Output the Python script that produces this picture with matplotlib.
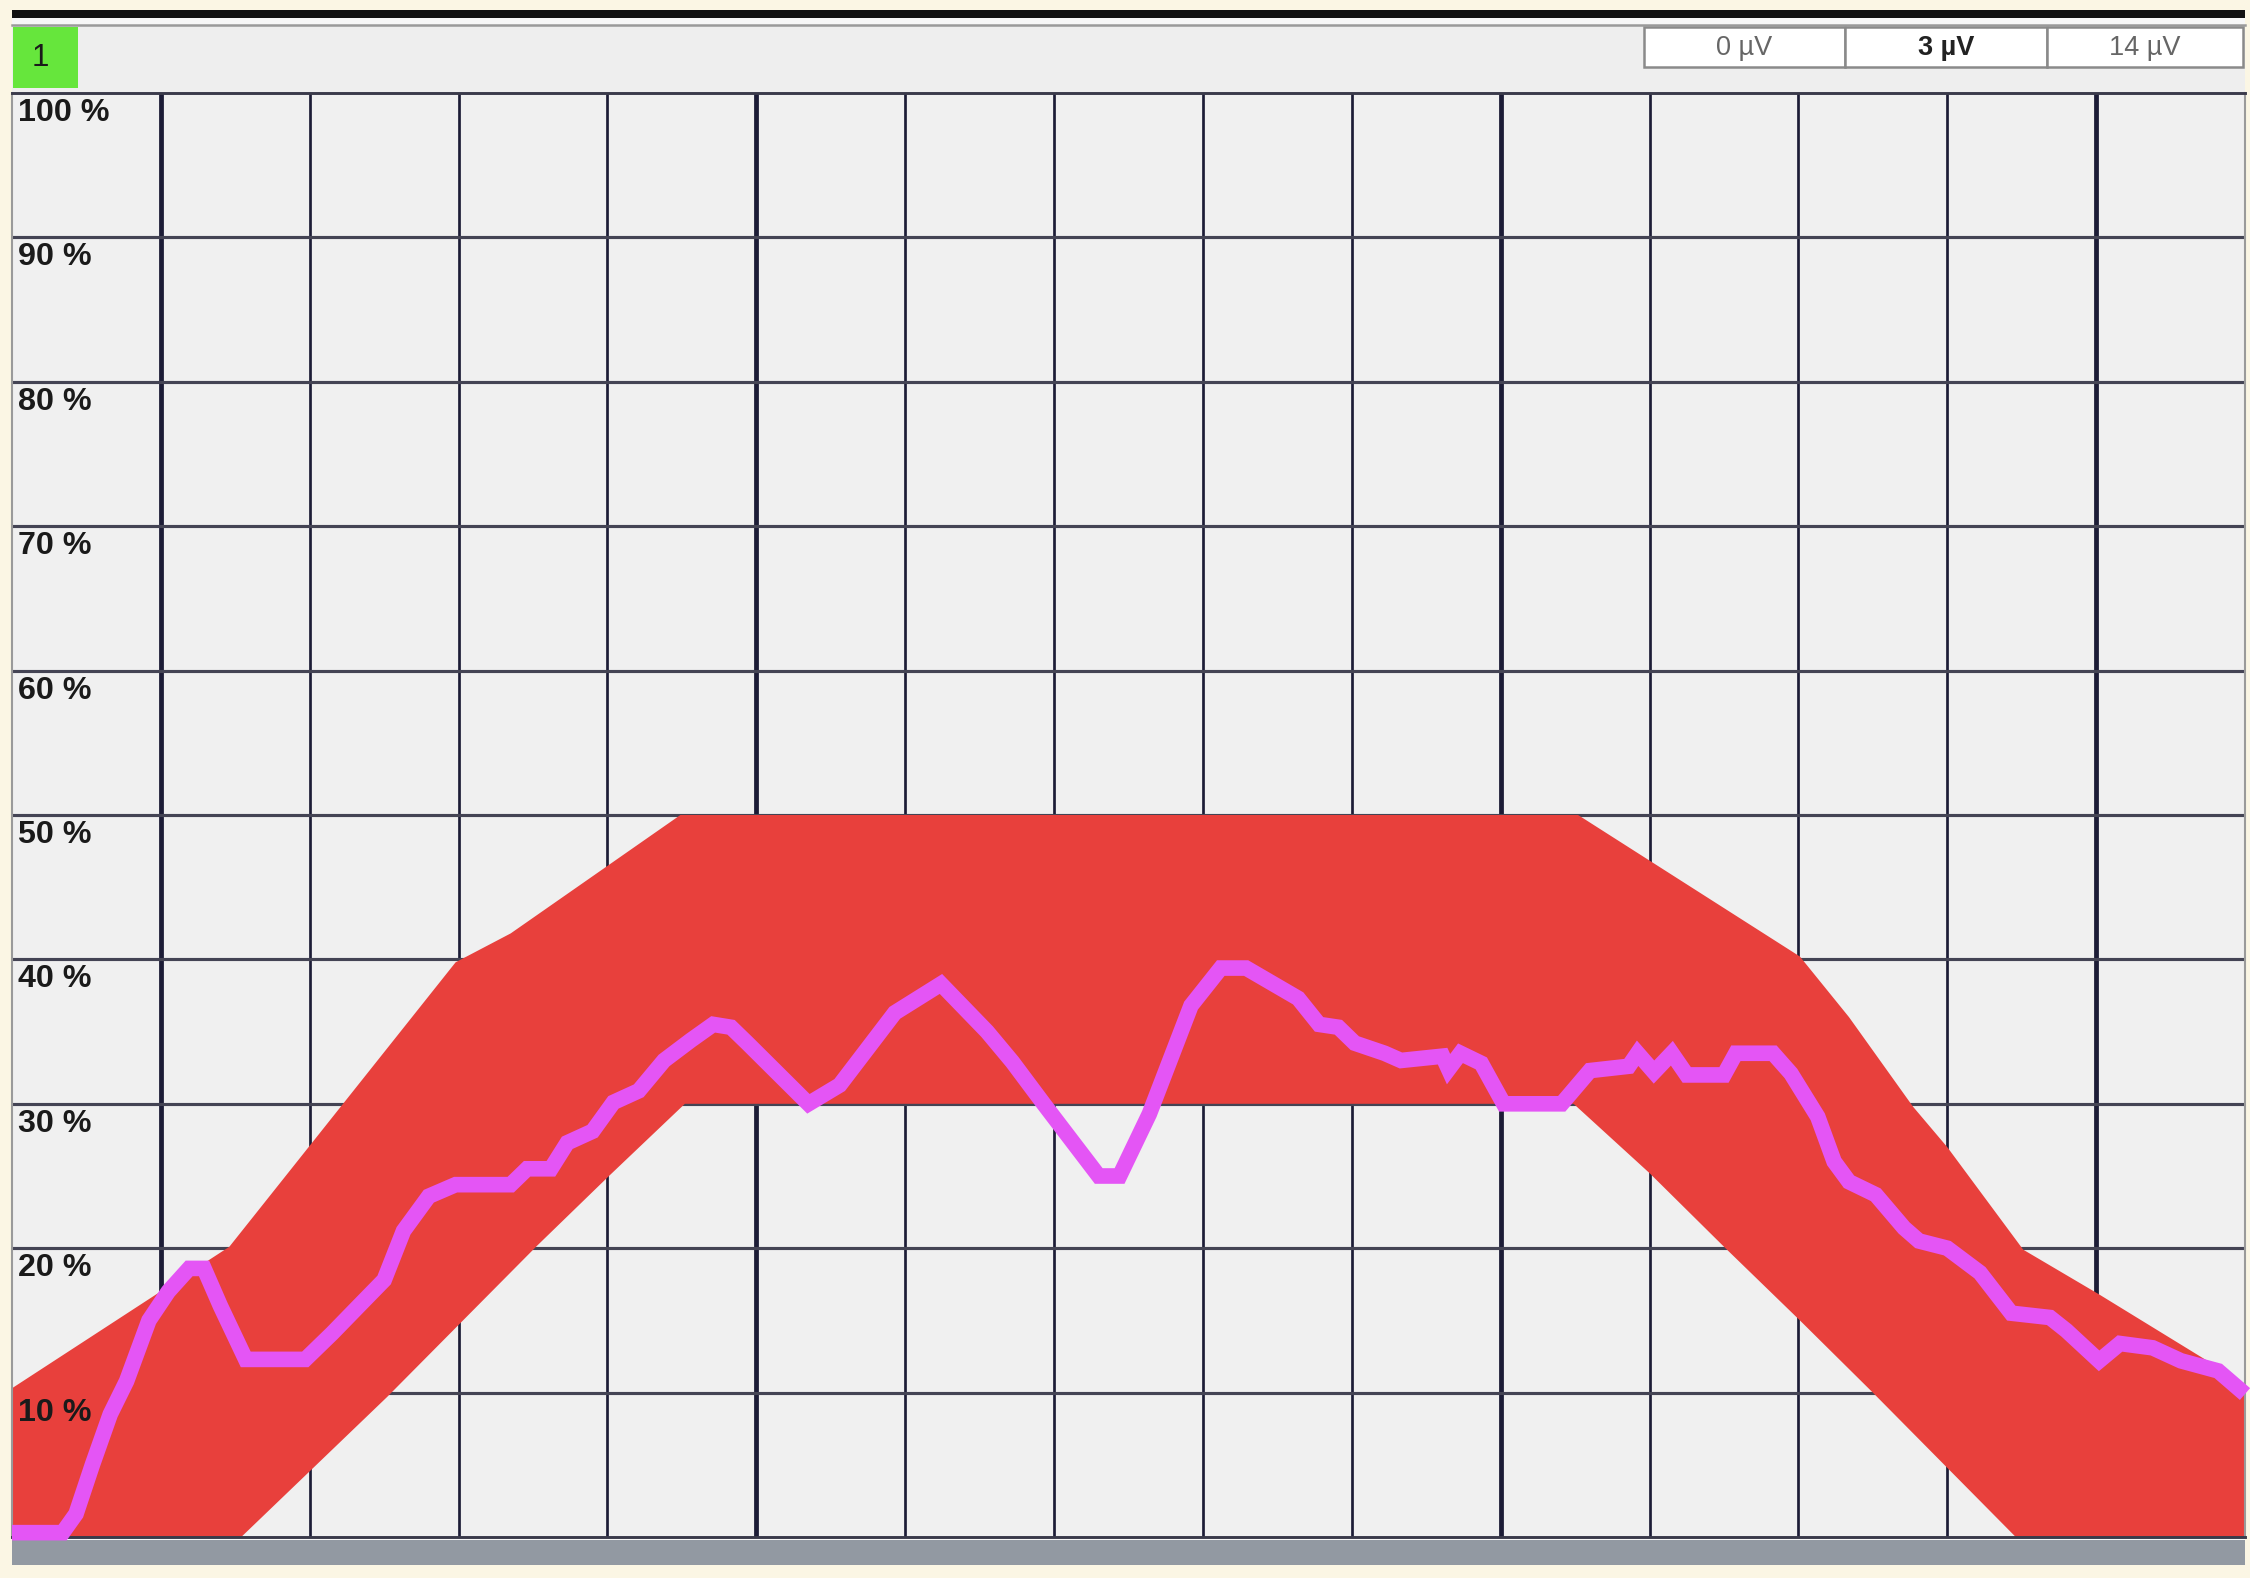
import matplotlib
matplotlib.use("Agg")
import matplotlib.pyplot as plt
from matplotlib.patches import Rectangle

# x in grid divisions (0..15), y in percent
upper_x = [0, 1.46, 2.98, 3.35, 4.49, 10.52, 12.01, 12.34, 12.77, 13.0, 13.51, 14.02, 15.0]
upper_y = [10.3, 20.1, 39.8, 41.8, 50, 50, 40.2, 36, 29.8, 27, 19.9, 16.8, 10.6]
lower_x = [0, 1.54, 2.52, 3.53, 4.01, 4.52, 10.49, 11.0, 11.51, 12.01, 12.5, 13.46, 15.0]
lower_y = [0, 0, 9.7, 20.2, 25, 30, 30, 25.2, 20, 15, 10, 0, 0]

trace_x = [0, 0.34, 0.43, 0.54, 0.66, 0.77, 0.92, 1.05, 1.19, 1.29, 1.40, 1.57, 1.97,
           2.15, 2.32, 2.50, 2.63, 2.80, 2.98, 3.35, 3.46, 3.62, 3.73, 3.90, 4.04,
           4.21, 4.38, 4.56, 4.71, 4.83, 4.94, 5.35, 5.56, 5.93, 6.24, 6.55, 6.72,
           6.93, 7.30, 7.44, 7.64, 7.92, 8.12, 8.29, 8.64, 8.78, 8.91, 9.02, 9.22,
           9.33, 9.61, 9.65, 9.73, 9.87, 10.02, 10.41, 10.60, 10.86, 10.92, 11.03,
           11.15, 11.25, 11.50, 11.58, 11.83, 11.95, 12.13, 12.24, 12.34, 12.52,
           12.71, 12.81, 13.00, 13.22, 13.43, 13.69, 13.80, 14.02, 14.16, 14.38,
           14.57, 14.82, 15.0]
trace_y = [0.3, 0.3, 1.6, 5, 8.5, 10.8, 15, 17, 18.6, 18.6, 16, 12.3, 12.3,
           14.1, 15.9, 17.8, 21.2, 23.6, 24.4, 24.4, 25.5, 25.5, 27.3, 28.1, 30.1,
           30.9, 33, 34.4, 35.5, 35.3, 34.2, 30, 31.3, 36.3, 38.3, 35, 32.9,
           30, 25, 25, 29.3, 36.8, 39.4, 39.4, 37.3, 35.5, 35.3, 34.2, 33.5,
           33.0, 33.3, 32.4, 33.5, 32.8, 30, 30, 32.3, 32.6, 33.5, 32.2,
           33.5, 32, 32, 33.5, 33.5, 32.1, 29.1, 26, 24.6, 23.7,
           21.4, 20.5, 20, 18.3, 15.5, 15.2, 14.3, 12.2, 13.4, 13.1,
           12.2, 11.5, 9.9]

pct_labels = [10, 20, 30, 40, 50, 60, 70, 80, 90, 100]
thick_cols = [1, 5, 10, 14]
buttons = ["0 µV", "3 µV", "14 µV"]
button_bold = [False, True, False]

W, H = 2250, 1578
fig = plt.figure(figsize=(15, 10.52), dpi=150, facecolor="#fbf6e4")

# background frame drawn in pixel coordinates
bg = fig.add_axes([0, 0, 1, 1], zorder=0)
bg.set_xlim(0, W)
bg.set_ylim(H, 0)
bg.axis("off")
bg.add_patch(Rectangle((12, 10), 2233, 1555, color="#f7f7f7", lw=0))
bg.add_patch(Rectangle((12, 10), 2233, 8, color="#111111", lw=0))
bg.add_patch(Rectangle((12, 25), 2233, 68, color="#eeeeee", lw=0))
bg.plot([12, 2245], [25, 25], color="#9a9a9a", lw=1.2)
bg.add_patch(Rectangle((12, 1540), 2233, 25, color="#9299a2", lw=0))
bg.add_patch(Rectangle((13, 27), 65, 61, color="#66e63c", lw=0))
bg.text(40, 58, "1", ha="center", va="center", fontsize=15, color="#1a1a1a",
        family=["Liberation Sans", "DejaVu Sans"])

bx = [1644, 1845, 2047, 2243]
for i, lab in enumerate(buttons):
    bg.add_patch(Rectangle((bx[i], 27), bx[i + 1] - bx[i], 40, facecolor="white",
                           edgecolor="#8a8a8a", lw=1.2))
    bg.text((bx[i] + bx[i + 1]) / 2, 48, lab, ha="center", va="center", fontsize=13,
            color="#222222" if button_bold[i] else "#666666",
            fontweight="bold" if button_bold[i] else "normal",
            family=["Liberation Sans Narrow", "Liberation Sans", "DejaVu Sans"])

# main chart
ax = fig.add_axes([12 / W, 41 / H, 2233 / W, 1444 / H], zorder=2)
ax.set_facecolor("#f0f0f0")
ax.set_xlim(0, 15)
ax.set_ylim(0, 100)
ax.set_xticks([])
ax.set_yticks([])
for s in ax.spines.values():
    s.set_color("#9a9a9a")
    s.set_linewidth(1)
ax.spines["top"].set_color("#3a3a4a")
ax.spines["top"].set_linewidth(1.4)
ax.spines["bottom"].set_color("#3a3a4a")
ax.spines["bottom"].set_linewidth(1.4)

for c in range(1, 15):
    ax.axvline(c, color="#1c1c36", lw=2.3 if c in thick_cols else 1.3, zorder=1)
for v in pct_labels[:-1]:
    ax.axhline(v, color="#444454", lw=1.5, zorder=1)

band_x = upper_x + lower_x[::-1]
band_y = upper_y + lower_y[::-1]
ax.fill(band_x, band_y, color="#e8403c", lw=0, zorder=2)

ax.plot(trace_x, trace_y, color="#e455f5", lw=7.5, solid_joinstyle="miter",
        solid_capstyle="butt", zorder=3, clip_on=False)

for v in pct_labels:
    ax.text(0.04, v - 0.35, f"{v} %", ha="left", va="top", fontsize=15.5,
            fontweight="bold", color="#1a1a1a", zorder=5,
            family=["Liberation Sans", "DejaVu Sans"])

fig.savefig("out.png", dpi=150, facecolor=fig.get_facecolor())
